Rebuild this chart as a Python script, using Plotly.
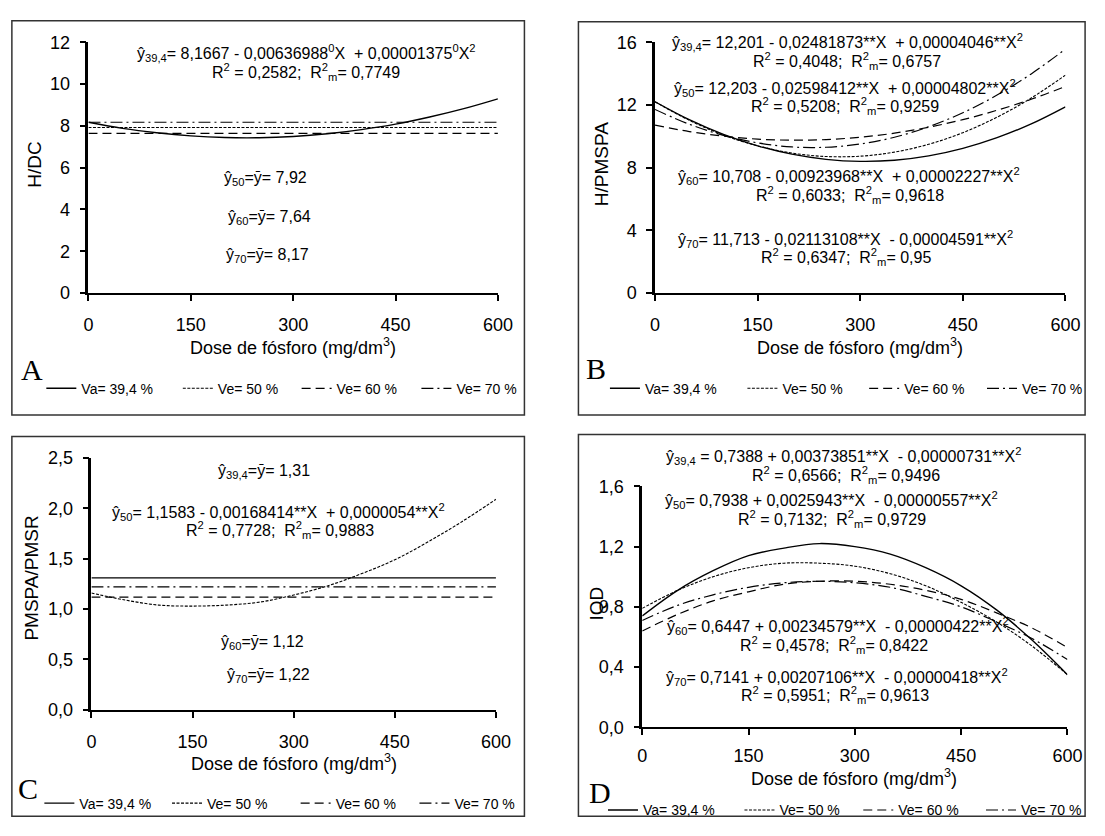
import plotly.graph_objects as go

W, H = 1105, 836

# ---------------- data ----------------
dose = [0, 50, 100, 150, 200, 250, 300, 350, 400, 450, 500, 550, 600]
dose_span = [0, 600]

series_names = ["Va= 39,4 %", "Ve= 50 %", "Ve= 60 %", "Ve= 70 %"]

# A: H/DC
hdc_va = [8.17, 7.88, 7.67, 7.52, 7.44, 7.43, 7.49, 7.62, 7.82, 8.08, 8.42, 8.82, 9.29]
hdc_ve50 = [7.92, 7.92]
hdc_ve60 = [7.64, 7.64]
hdc_ve70 = [8.17, 8.17]

# B: H/PMSPA
hpmspa_va = [12.20, 11.06, 10.12, 9.39, 8.86, 8.53, 8.40, 8.47, 8.75, 9.23, 9.91, 10.79, 11.88]
hpmspa_ve50 = [12.20, 11.02, 10.08, 9.39, 8.93, 8.71, 8.73, 8.99, 9.49, 10.23, 11.22, 12.44, 13.90]
hpmspa_ve60 = [10.71, 10.30, 10.01, 9.82, 9.75, 9.79, 9.94, 10.20, 10.58, 11.06, 11.66, 12.36, 13.18]
hpmspa_ve70 = [11.71, 10.77, 10.06, 9.58, 9.32, 9.30, 9.51, 9.94, 10.61, 11.50, 12.63, 13.98, 15.56]

# C: PMSPA/PMSR
ratio_va = [1.31, 1.31]
ratio_ve50 = [1.16, 1.09, 1.04, 1.03, 1.04, 1.07, 1.14, 1.23, 1.35, 1.49, 1.67, 1.87, 2.09]
ratio_ve60 = [1.12, 1.12]
ratio_ve70 = [1.22, 1.22]

# D: IQD
iqd_va = [0.74, 0.91, 1.04, 1.14, 1.19, 1.22, 1.20, 1.15, 1.06, 0.94, 0.78, 0.58, 0.35]
iqd_ve50 = [0.79, 0.91, 1.00, 1.06, 1.09, 1.09, 1.07, 1.02, 0.94, 0.83, 0.70, 0.54, 0.35]
iqd_ve60 = [0.64, 0.75, 0.84, 0.90, 0.95, 0.97, 0.97, 0.95, 0.91, 0.85, 0.76, 0.66, 0.53]
iqd_ve70 = [0.71, 0.81, 0.88, 0.93, 0.96, 0.97, 0.96, 0.93, 0.87, 0.80, 0.70, 0.59, 0.45]

# tick labels
x_tickvals = [0, 150, 300, 450, 600]
x_ticktext = ["0", "150", "300", "450", "600"]
hdc_tickvals = [0, 2, 4, 6, 8, 10, 12]
hdc_ticktext = ["0", "2", "4", "6", "8", "10", "12"]
hpmspa_tickvals = [0, 4, 8, 12, 16]
hpmspa_ticktext = ["0", "4", "8", "12", "16"]
ratio_tickvals = [0, 0.5, 1.0, 1.5, 2.0, 2.5]
ratio_ticktext = ["0,0", "0,5", "1,0", "1,5", "2,0", "2,5"]
iqd_tickvals = [0, 0.4, 0.8, 1.2, 1.6]
iqd_ticktext = ["0,0", "0,4", "0,8", "1,2", "1,6"]

# ---------------- layout helpers (pixel -> paper) ----------------
def px(x):
    return x / W


def py(y):
    return 1 - y / H


FONT = "Liberation Sans, Arial, sans-serif"
SERIF = "Liberation Serif, Times New Roman, serif"

line_styles = [
    dict(color="black", width=1.4, dash="solid"),
    dict(color="black", width=1.1, dash="3px,1.5px"),
    dict(color="black", width=1.2, dash="9px,5px"),
    dict(color="black", width=1.2, dash="12px,4px,2px,4px"),
]

panels = [
    dict(key="", xdom=(85, 502), ydom=(290, 33), yrange=[0, 12],
         ytv=hdc_tickvals, ytt=hdc_ticktext, xstand=8,
         xs=[dose, dose_span, dose_span, dose_span],
         ys=[hdc_va, hdc_ve50, hdc_ve60, hdc_ve70],
         legend_y=388, legend_text_x=[77, 216, 337, 459]),
    dict(key="2", xdom=(662, 1080), ydom=(290, 33), yrange=[0, 16],
         ytv=hpmspa_tickvals, ytt=hpmspa_ticktext, xstand=8,
         xs=[dose, dose, dose, dose],
         ys=[hpmspa_va, hpmspa_ve50, hpmspa_ve60, hpmspa_ve70],
         legend_y=388, legend_text_x=[651, 791, 915, 1035]),
    dict(key="3", xdom=(88, 500), ydom=(717, 459), yrange=[0, 2.5],
         ytv=ratio_tickvals, ytt=ratio_ticktext, xstand=9,
         xs=[dose_span, dose, dose_span, dose_span],
         ys=[ratio_va, ratio_ve50, ratio_ve60, ratio_ve70],
         legend_y=813, legend_text_x=[75, 205, 336, 457]),
    dict(key="4", xdom=(649, 1082), ydom=(735, 488), yrange=[0, 1.6],
         ytv=iqd_tickvals, ytt=iqd_ticktext, xstand=5,
         xs=[dose, dose, dose, dose],
         ys=[iqd_va, iqd_ve50, iqd_ve60, iqd_ve70],
         legend_y=820, legend_text_x=[649, 788, 909, 1034]),
]

fig = go.Figure()
layout_extra = {}
legend_count = 0

for p in panels:
    k = p["key"]
    xa = "x" + k
    ya = "y" + k
    for i in range(4):
        legend_count += 1
        lname = "legend" if legend_count == 1 else f"legend{legend_count}"
        fig.add_trace(go.Scatter(
            x=p["xs"][i], y=p["ys"][i], mode="lines", name=series_names[i],
            line=dict(**line_styles[i], shape="spline", smoothing=1.0),
            xaxis=xa, yaxis=ya, legend=lname, showlegend=True,
            hoverinfo="skip",
        ))
        layout_extra[lname] = dict(
            x=px(p["legend_text_x"][i] - 40), y=py(p["legend_y"]),
            xanchor="left", yanchor="middle", orientation="h",
            bgcolor="rgba(0,0,0,0)", borderwidth=0,
            font=dict(family=FONT, size=14, color="black"),
            itemclick=False, itemdoubleclick=False,
        )
    layout_extra["xaxis" + k] = dict(
        domain=[px(p["xdom"][0]), px(p["xdom"][1])], range=[0, 600],
        anchor=ya, tickvals=x_tickvals, ticktext=x_ticktext,
        ticks="outside", ticklen=6, tickwidth=1.5, tickcolor="black",
        showline=True, linecolor="black", linewidth=2,
        showgrid=False, zeroline=False, ticklabelstandoff=p["xstand"],
        tickfont=dict(family=FONT, size=18, color="black"),
    )
    layout_extra["yaxis" + k] = dict(
        domain=[py(p["ydom"][0]), py(p["ydom"][1])], range=p["yrange"],
        anchor=xa, tickvals=p["ytv"], ticktext=p["ytt"],
        ticks="outside", ticklen=6, tickwidth=1.5, tickcolor="black",
        showline=True, linecolor="black", linewidth=2.5,
        showgrid=False, zeroline=False, ticklabelstandoff=6,
        tickfont=dict(family=FONT, size=18, color="black"),
    )

# ---------------- texts ----------------
texts = [
    # panel A
    (307, 44, "ŷ<sub>39,4</sub>= 8,1667 - 0,00636988<sup>0</sup>X  + 0,00001375<sup>0</sup>X<sup>2</sup>", 16),
    (307, 64, "R<sup>2</sup> = 0,2582;  R<sup>2</sup><sub>m</sub>= 0,7749", 16),
    (265, 173, "ŷ<sub>50</sub>=ȳ= 7,92", 16),
    (269, 213, "ŷ<sub>60</sub>=ȳ= 7,64", 16),
    (267, 252, "ŷ<sub>70</sub>=ȳ= 8,17", 16),
    # panel B
    (858, 33, "ŷ<sub>39,4</sub>= 12,201 - 0,02481873**X  + 0,00004046**X<sup>2</sup>", 16),
    (858, 52, "R<sup>2</sup> = 0,4048;  R<sup>2</sup><sub>m</sub>= 0,6757", 16),
    (855, 80, "ŷ<sub>50</sub>= 12,203 - 0,02598412**X  + 0,00004802**X<sup>2</sup>", 16),
    (855, 98, "R<sup>2</sup> = 0,5208;  R<sup>2</sup><sub>m</sub>= 0,9259", 16),
    (860, 170, "ŷ<sub>60</sub>= 10,708 - 0,00923968**X  + 0,00002227**X<sup>2</sup>", 16),
    (861, 190, "R<sup>2</sup> = 0,6033;  R<sup>2</sup><sub>m</sub>= 0,9618", 16),
    (856, 235, "ŷ<sub>70</sub>= 11,713 - 0,02113108**X  - 0,00004591**X<sup>2</sup>", 16),
    (857, 253, "R<sup>2</sup> = 0,6347;  R<sup>2</sup><sub>m</sub>= 0,95", 16),
    # panel C
    (264, 473, "ŷ<sub>39,4</sub>=ȳ= 1,31", 16),
    (279, 514, "ŷ<sub>50</sub>= 1,1583 - 0,00168414**X  + 0,0000054**X<sup>2</sup>", 16),
    (280, 533, "R<sup>2</sup> = 0,7728;  R<sup>2</sup><sub>m</sub>= 0,9883", 16),
    (262, 648, "ŷ<sub>60</sub>=ȳ= 1,12", 16),
    (268, 682, "ŷ<sub>70</sub>=ȳ= 1,22", 16),
    # panel D
    (854, 457, "ŷ<sub>39,4</sub> = 0,7388 + 0,00373851**X  - 0,00000731**X<sup>2</sup>", 16),
    (856, 476, "R<sup>2</sup> = 0,6566;  R<sup>2</sup><sub>m</sub>= 0,9496", 16),
    (842, 502, "ŷ<sub>50</sub>= 0,7938 + 0,0025943**X  - 0,00000557**X<sup>2</sup>", 16),
    (842, 521, "R<sup>2</sup> = 0,7132;  R<sup>2</sup><sub>m</sub>= 0,9729", 16),
    (848, 631, "ŷ<sub>60</sub>= 0,6447 + 0,00234579**X  - 0,00000422**X<sup>2</sup>", 16),
    (844, 651, "R<sup>2</sup> = 0,4578;  R<sup>2</sup><sub>m</sub>= 0,8422", 16),
    (847, 683, "ŷ<sub>70</sub>= 0,7141 + 0,00207106**X  - 0,00000418**X<sup>2</sup>", 16),
    (845, 702, "R<sup>2</sup> = 0,5951;  R<sup>2</sup><sub>m</sub>= 0,9613", 16),
    # x titles
    (293, 345, "Dose de fósforo (mg/dm<sup>3</sup>)", 18),
    (871, 345, "Dose de fósforo (mg/dm<sup>3</sup>)", 18),
    (294, 771, "Dose de fósforo (mg/dm<sup>3</sup>)", 18),
    (865, 786, "Dose de fósforo (mg/dm<sup>3</sup>)", 18),
]

annotations = []
for (x, y, t, s) in texts:
    annotations.append(dict(
        x=px(x), y=py(y), xref="paper", yref="paper", text=t, showarrow=False,
        xanchor="center", yanchor="middle",
        font=dict(family=FONT, size=s, color="black"),
    ))

# y titles
for (x, y, t) in [(30, 158, "H/DC"), (607, 158, "H/PMSPA"),
                  (27, 582, "PMSPA/PMSR"), (602, 608, "IQD")]:
    annotations.append(dict(
        x=px(x), y=py(y), xref="paper", yref="paper", text=t, showarrow=False,
        textangle=-90, xanchor="center", yanchor="middle",
        font=dict(family=FONT, size=19, color="black"),
    ))

# panel letters
for (x, y, t) in [(27, 368, "A"), (602, 367, "B"), (23, 798, "C"), (606, 802, "D")]:
    annotations.append(dict(
        x=px(x), y=py(y), xref="paper", yref="paper", text=t, showarrow=False,
        xanchor="center", yanchor="middle",
        font=dict(family=SERIF, size=30, color="black"),
    ))

# panel frames
shapes = []
for (x0, y0, x1, y1) in [(7, 11, 529, 415), (584, 12, 1100, 415),
                         (7, 437, 529, 826), (584, 435, 1100, 826)]:
    shapes.append(dict(
        type="rect", xref="paper", yref="paper",
        x0=px(x0), x1=px(x1), y0=py(y0), y1=py(y1),
        line=dict(color="#333333", width=1.5), fillcolor="rgba(0,0,0,0)",
    ))

fig.update_layout(
    width=W, height=H, margin=dict(l=0, r=0, t=0, b=0),
    paper_bgcolor="white", plot_bgcolor="white",
    font=dict(family=FONT, color="black"),
    annotations=annotations, shapes=shapes,
    **layout_extra,
)

fig.write_html("out.html")
